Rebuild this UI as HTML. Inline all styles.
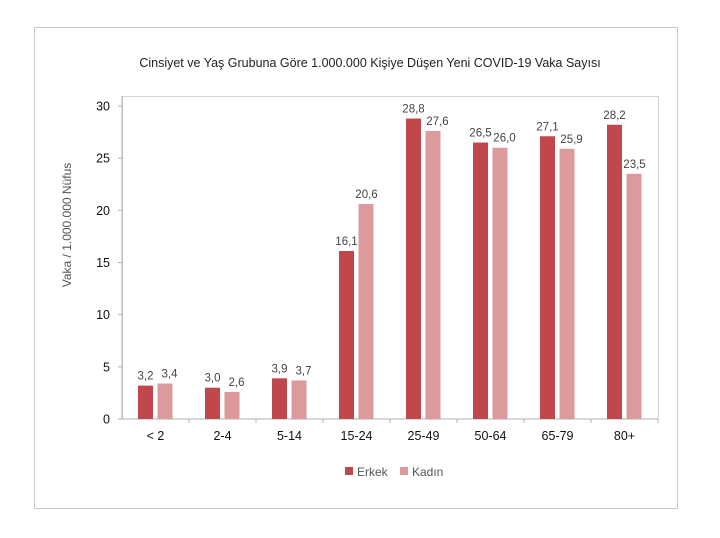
<!DOCTYPE html>
<html><head><meta charset="utf-8"><style>
body{margin:0;background:#fff;font-family:"Liberation Sans",sans-serif;}
svg text{font-family:"Liberation Sans",sans-serif;}
</style></head><body>
<svg width="720" height="533" viewBox="0 0 720 533">
<rect x="34.5" y="27.5" width="643" height="481" fill="#fff" stroke="#c8c8c8"/>
<text x="370" y="67" text-anchor="middle" font-size="12.5" fill="#222">Cinsiyet ve Yaş Grubuna Göre 1.000.000 Kişiye Düşen Yeni COVID-19 Vaka Sayısı</text>
<rect x="122.5" y="96.5" width="536" height="322.5" fill="none" stroke="#d4d4d4"/>
<text transform="translate(71,225) rotate(-90)" text-anchor="middle" font-size="12" fill="#555">Vaka / 1.000.000 Nüfus</text>
<g id="g"></g>
<rect x="345" y="467" width="8" height="8" fill="#c0474b"/>
<text x="357" y="476" font-size="12" fill="#555">Erkek</text>
<rect x="400" y="467" width="8" height="8" fill="#dc9a9c"/>
<text x="412" y="476" font-size="12" fill="#555">Kadın</text>
</svg>
<script>
const categories=["< 2","2-4","5-14","15-24","25-49","50-64","65-79","80+"];
const erkek=[3.2,3.0,3.9,16.1,28.8,26.5,27.1,28.2];
const kadin=[3.4,2.6,3.7,20.6,27.6,26.0,25.9,23.5];
const yTicks=[0,5,10,15,20,25,30];
const NS="http://www.w3.org/2000/svg";
const g=document.getElementById('g');
const x0=122,x1=658,y0=419,yTop=106,yMax=30;
const bw=(x1-x0)/categories.length;
const y=v=>y0-(v/yMax)*(y0-yTop);
function mk(t,a){const e=document.createElementNS(NS,t);for(const k in a)e.setAttribute(k,a[k]);g.appendChild(e);return e;}
let ax=mk('line',{x1:x0,y1:96,x2:x0,y2:y0,stroke:'#b0b0b0'});


let bx=mk('line',{x1:x0,y1:y0,x2:x1,y2:y0,stroke:'#b0b0b0'});


yTicks.forEach(t=>{
 const l=mk('line',{x1:x0-4,x2:x0,y1:y(t),y2:y(t),stroke:'#b0b0b0'});
 
 
 const tx=mk('text',{x:x0-12,y:y(t)+4.5,'text-anchor':'end','font-size':'12.5',fill:'#111'});
 tx.textContent=t;
 
 
});
const fmt=v=>v.toFixed(1).replace('.',',');
categories.forEach((c,i)=>{
 const cx=x0+bw*(i+0.5);
 const tk=mk('line',{x1:x0+bw*(i+1),x2:x0+bw*(i+1),y1:y0,y2:y0+4,stroke:'#b0b0b0'});
 
 
 const lb=mk('text',{x:cx,y:y0+21,'text-anchor':'middle','font-size':'12.5',fill:'#111'});
 lb.textContent=c;
 
 
 const b1=mk('rect',{x:cx-17.5,y:y(erkek[i]),width:15,height:y0-y(erkek[i]),fill:'#c0474b'});
 
 
 const b2=mk('rect',{x:cx+2,y:y(kadin[i]),width:15,height:y0-y(kadin[i]),fill:'#dc9a9c'});
 
 
 const v1=mk('text',{x:cx-10,y:y(erkek[i])-6,'text-anchor':'middle','font-size':'11.5',fill:'#444'});
 v1.textContent=fmt(erkek[i]);
 
 
 const v2=mk('text',{x:cx+10+(Math.abs(erkek[i]-kadin[i])<1.5?4:0),y:y(kadin[i])-6,'text-anchor':'middle','font-size':'11.5',fill:'#444'});
 v2.textContent=fmt(kadin[i]);
 
 
});
</script>
</body></html>
